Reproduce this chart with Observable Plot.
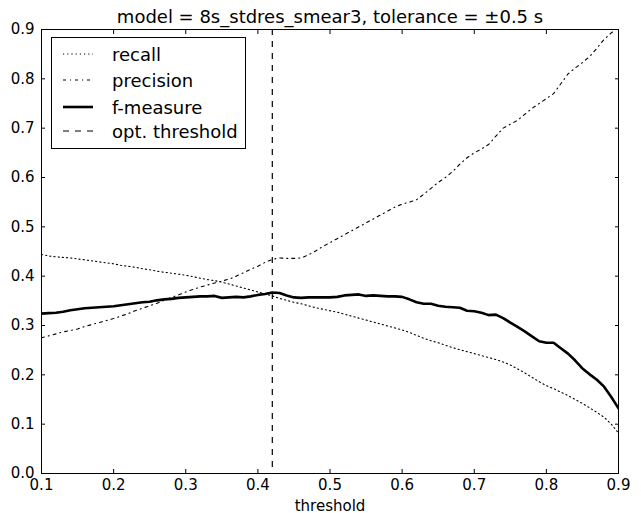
<!DOCTYPE html>
<html>
<head>
<meta charset="utf-8">
<script src="https://cdn.jsdelivr.net/npm/d3@7"></script>
<script src="https://cdn.jsdelivr.net/npm/@observablehq/plot@0.6"></script>
<style>
  html, body { margin: 0; padding: 0; background: #fff; }
  #wrap { position: relative; width: 641px; height: 513px; font-family: "DejaVu Sans", sans-serif; }
  #legend { position: absolute; left: 51px; top: 37px; width: 193px; height: 110px; border: 1px solid #000; background: #fff; }
  .row { position: absolute; left: 0; height: 24px; display: flex; align-items: center; font-size: 18px; color: #000; }
  .row svg { margin-left: 11px; margin-right: 19px; }
</style>
</head>
<body>
<div id="wrap"></div>
<script>
const titleText = "model = 8s_stdres_smear3, tolerance = \u00b10.5 s";
const xLabel = "threshold";
const optThreshold = 0.42;
const xTicks = [0.1, 0.2, 0.3, 0.4, 0.5, 0.6, 0.7, 0.8, 0.9];
const yTicks = [0.0, 0.1, 0.2, 0.3, 0.4, 0.5, 0.6, 0.7, 0.8, 0.9];
const seriesNames = ["recall", "precision", "f-measure", "opt. threshold"];

const thresholds = [
  0.10,0.11,0.12,0.13,0.14,0.15,0.16,0.17,0.18,0.19,
  0.20,0.21,0.22,0.23,0.24,0.25,0.26,0.27,0.28,0.29,
  0.30,0.31,0.32,0.33,0.34,0.35,0.36,0.37,0.38,0.39,
  0.40,0.41,0.42,0.43,0.44,0.45,0.46,0.47,0.48,0.49,
  0.50,0.51,0.52,0.53,0.54,0.55,0.56,0.57,0.58,0.59,
  0.60,0.61,0.62,0.63,0.64,0.65,0.66,0.67,0.68,0.69,
  0.70,0.71,0.72,0.73,0.74,0.75,0.76,0.77,0.78,0.79,
  0.80,0.81,0.82,0.83,0.84,0.85,0.86,0.87,0.88,0.89,
  0.90
];

const recall = [
  0.444,0.441,0.439,0.438,0.437,0.435,0.433,0.431,0.429,0.427,
  0.425,0.422,0.420,0.418,0.415,0.413,0.410,0.408,0.406,0.404,
  0.402,0.399,0.396,0.393,0.391,0.388,0.384,0.380,0.376,0.372,
  0.368,0.364,0.360,0.355,0.351,0.347,0.344,0.340,0.336,0.333,
  0.330,0.327,0.323,0.319,0.315,0.311,0.307,0.303,0.299,0.295,
  0.291,0.286,0.280,0.274,0.269,0.265,0.260,0.255,0.251,0.247,
  0.243,0.239,0.235,0.231,0.226,0.220,0.212,0.204,0.195,0.186,
  0.178,0.172,0.165,0.158,0.150,0.142,0.133,0.124,0.114,0.100,
  0.082
];

const precision = [
  0.275,0.279,0.283,0.287,0.290,0.293,0.298,0.302,0.306,0.310,
  0.314,0.319,0.324,0.330,0.335,0.340,0.345,0.351,0.357,0.362,
  0.368,0.373,0.378,0.382,0.386,0.390,0.394,0.400,0.407,0.414,
  0.420,0.428,0.434,0.437,0.436,0.436,0.437,0.443,0.451,0.460,
  0.468,0.476,0.484,0.492,0.500,0.508,0.516,0.524,0.532,0.540,
  0.546,0.550,0.555,0.566,0.578,0.590,0.600,0.612,0.627,0.640,
  0.650,0.658,0.667,0.684,0.700,0.708,0.716,0.728,0.740,0.750,
  0.760,0.770,0.790,0.810,0.822,0.833,0.845,0.862,0.880,0.893,
  0.905
];

const fMeasure = [
  0.324,0.325,0.326,0.328,0.331,0.333,0.335,0.336,0.337,0.338,
  0.339,0.341,0.343,0.345,0.347,0.348,0.351,0.353,0.354,0.356,
  0.357,0.358,0.359,0.359,0.360,0.356,0.357,0.358,0.357,0.359,
  0.362,0.364,0.367,0.366,0.361,0.357,0.356,0.357,0.357,0.357,
  0.357,0.358,0.361,0.362,0.363,0.360,0.361,0.360,0.359,0.359,
  0.358,0.353,0.347,0.344,0.344,0.340,0.338,0.337,0.336,0.330,
  0.329,0.326,0.321,0.322,0.315,0.306,0.297,0.288,0.278,0.268,
  0.265,0.265,0.254,0.243,0.229,0.213,0.201,0.190,0.176,0.155,
  0.132
];

const recallData = thresholds.map((t, i) => ({t, v: recall[i]}));
const precisionData = thresholds.map((t, i) => ({t, v: precision[i]}));
const fData = thresholds.map((t, i) => ({t, v: fMeasure[i]}));

const fmt = d3.format(".1f");

const chart = Plot.plot({
  width: 641,
  height: 513,
  marginLeft: 41,
  marginRight: 23,
  marginTop: 29,
  marginBottom: 40,
  style: {fontFamily: "DejaVu Sans, sans-serif", fontSize: "15px", color: "#000", background: "#fff", overflow: "visible"},
  x: {domain: [0.1, 0.9]},
  y: {domain: [0, 0.9]},
  marks: [
    Plot.line(recallData, {x: "t", y: "v", stroke: "#000", strokeWidth: 1.1, strokeDasharray: "1.2,3", clip: true}),
    Plot.line(precisionData, {x: "t", y: "v", stroke: "#000", strokeWidth: 1.1, strokeDasharray: "3,4,1,4", clip: true}),
    Plot.line(fData, {x: "t", y: "v", stroke: "#000", strokeWidth: 2.6, clip: true}),
    Plot.ruleX([optThreshold], {stroke: "#000", strokeWidth: 1.2, strokeDasharray: "6,6"}),
    Plot.axisX(xTicks, {anchor: "bottom", tickSize: -4, tickPadding: 10, tickFormat: fmt, fontSize: 15, label: xLabel, labelAnchor: "center", labelOffset: 37, labelArrow: "none"}),
    Plot.axisX(xTicks, {anchor: "top", tickSize: -4, tickFormat: () => "", label: null}),
    Plot.axisY(yTicks, {anchor: "left", tickSize: -4, tickPadding: 11, tickFormat: fmt, fontSize: 15, label: null}),
    Plot.axisY(yTicks, {anchor: "right", tickSize: -4, tickFormat: () => "", label: null}),
    Plot.frame({stroke: "#000", strokeWidth: 1}),
    Plot.text([titleText], {frameAnchor: "top", lineAnchor: "bottom", dy: -7, fontSize: 18, fill: "#000"})
  ]
});

const wrap = document.getElementById("wrap");
wrap.appendChild(chart);

// legend (HTML overlay)
const legendStyles = [
  {name: seriesNames[0], dash: "1.2,3", width: 1.1},
  {name: seriesNames[1], dash: "3,4,1,4", width: 1.1},
  {name: seriesNames[2], dash: null, width: 2.6},
  {name: seriesNames[3], dash: "6,6", width: 1.2}
];
const legend = document.createElement("div");
legend.id = "legend";
const rowTops = [4, 30, 57, 81];
legendStyles.forEach((s, i) => {
  const row = document.createElement("div");
  row.className = "row";
  row.style.top = rowTops[i] + "px";
  row.innerHTML = `<svg width="30" height="10"><line x1="0" y1="5" x2="30" y2="5" stroke="#000" stroke-width="${s.width}" ${s.dash ? `stroke-dasharray="${s.dash}"` : ""}/></svg><span>${s.name}</span>`;
  legend.appendChild(row);
});
wrap.appendChild(legend);
</script>
</body>
</html>
